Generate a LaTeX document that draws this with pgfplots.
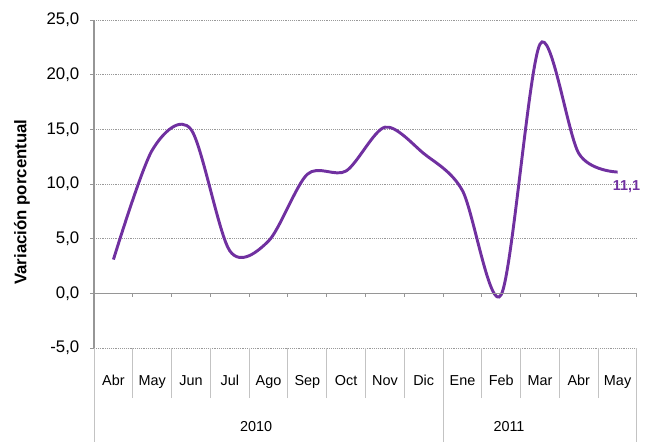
\documentclass[border=0pt]{standalone}
\usepackage{fontspec}
\setmainfont{Liberation Sans}
\usepackage{pgfplots}
\pgfplotsset{compat=1.18}
\definecolor{lila}{RGB}{112,48,160}
\definecolor{sepgray}{RGB}{195,195,195}
\definecolor{axgray}{RGB}{150,150,150}
\begin{document}
\begin{tikzpicture}
\begin{axis}[name=ax, scale only axis, width=407pt, height=246pt,
  xmin=-0.5, xmax=13.5, ymin=-5, ymax=25,
  clip=false,
  axis line style={draw=none},
  ytick={-5,0,...,25},
  xtick={0,...,13},
  xticklabels={Abr,May,Jun,Jul,Ago,Sep,Oct,Nov,Dic,Ene,Feb,Mar,Abr,May},
  minor xtick={0.5,1.5,...,12.5},
  major x tick style={draw=none},
  minor x tick style={draw=sepgray, line width=0.75pt},
  minor tick length=37.5pt,
  major tick length=3pt,
  tick align=outside,
  xtick pos=bottom, ytick pos=left,
  y tick style={draw=axgray, line width=0.75pt},
  ymajorgrids,
  major grid style={densely dotted, draw=gray!80, line width=0.6pt},
  /pgf/number format/assume math mode=true,
  yticklabel={\pgfmathprintnumber[fixed, fixed zerofill, precision=1, use comma]{\tick}},
  yticklabel style={font=\fontsize{12.6}{15}\selectfont, xshift=-4.5pt},
  xticklabel style={font=\fontsize{10.8}{13}\selectfont, anchor=center, text height=1.6ex, text depth=0.45ex, yshift=-22pt},
  ylabel={Variación porcentual},
  ylabel style={font=\fontsize{12.6}{15}\selectfont\bfseries, at={(axis description cs:-0.1327,0.445)}, rotate=0, anchor=center},
]
\addplot[lila, line width=2.2pt, smooth, tension=0.5] coordinates {
  (0,3.1) (1,13.1) (2,15.0) (3,3.9) (4,4.8) (5,10.9) (6,11.2)
  (7,15.2) (8,12.8) (9,9.4) (10,-0.1) (11,22.8) (12,12.8) (13,11.1)
};
\draw[axgray, line width=1pt] (axis cs:-0.5,25) -- (axis cs:-0.5,-5);
\draw[axgray, line width=1pt] (axis cs:-0.5,0) -- (axis cs:13.5,0);
\pgfplotsinvokeforeach{0.5,1.5,2.5,3.5,4.5,5.5,6.5,7.5,8.5,9.5,10.5,11.5,12.5,13.5}{
  \draw[axgray, line width=0.75pt] (axis cs:#1,0) -- ([yshift=-3pt]axis cs:#1,0);
}
\draw[sepgray, line width=0.75pt] (axis cs:-0.5,-5) -- ([yshift=-70pt]axis cs:-0.5,-5);
\draw[sepgray, line width=0.75pt] (axis cs:8.5,-5) -- ([yshift=-70pt]axis cs:8.5,-5);
\draw[sepgray, line width=0.75pt] (axis cs:13.5,-5) -- ([yshift=-70pt]axis cs:13.5,-5);
\node[font=\fontsize{10.8}{13}\selectfont, yshift=-58.5pt] at (axis cs:3.68,-5) {2010};
\node[font=\fontsize{10.8}{13}\selectfont, yshift=-58.5pt] at (axis cs:10.2,-5) {2011};
\node[lila, font=\fontsize{10.8}{13}\selectfont\bfseries, anchor=north, inner sep=0pt, xshift=6.75pt, yshift=-6pt] at (axis cs:13,11.1) {11,1};
\end{axis}
\pgfresetboundingbox
\path[use as bounding box] ([shift={(-70.5pt,-69.75pt)}]ax.south west) rectangle ([shift={(10.5pt,15pt)}]ax.north east);
\end{tikzpicture}
\end{document}
